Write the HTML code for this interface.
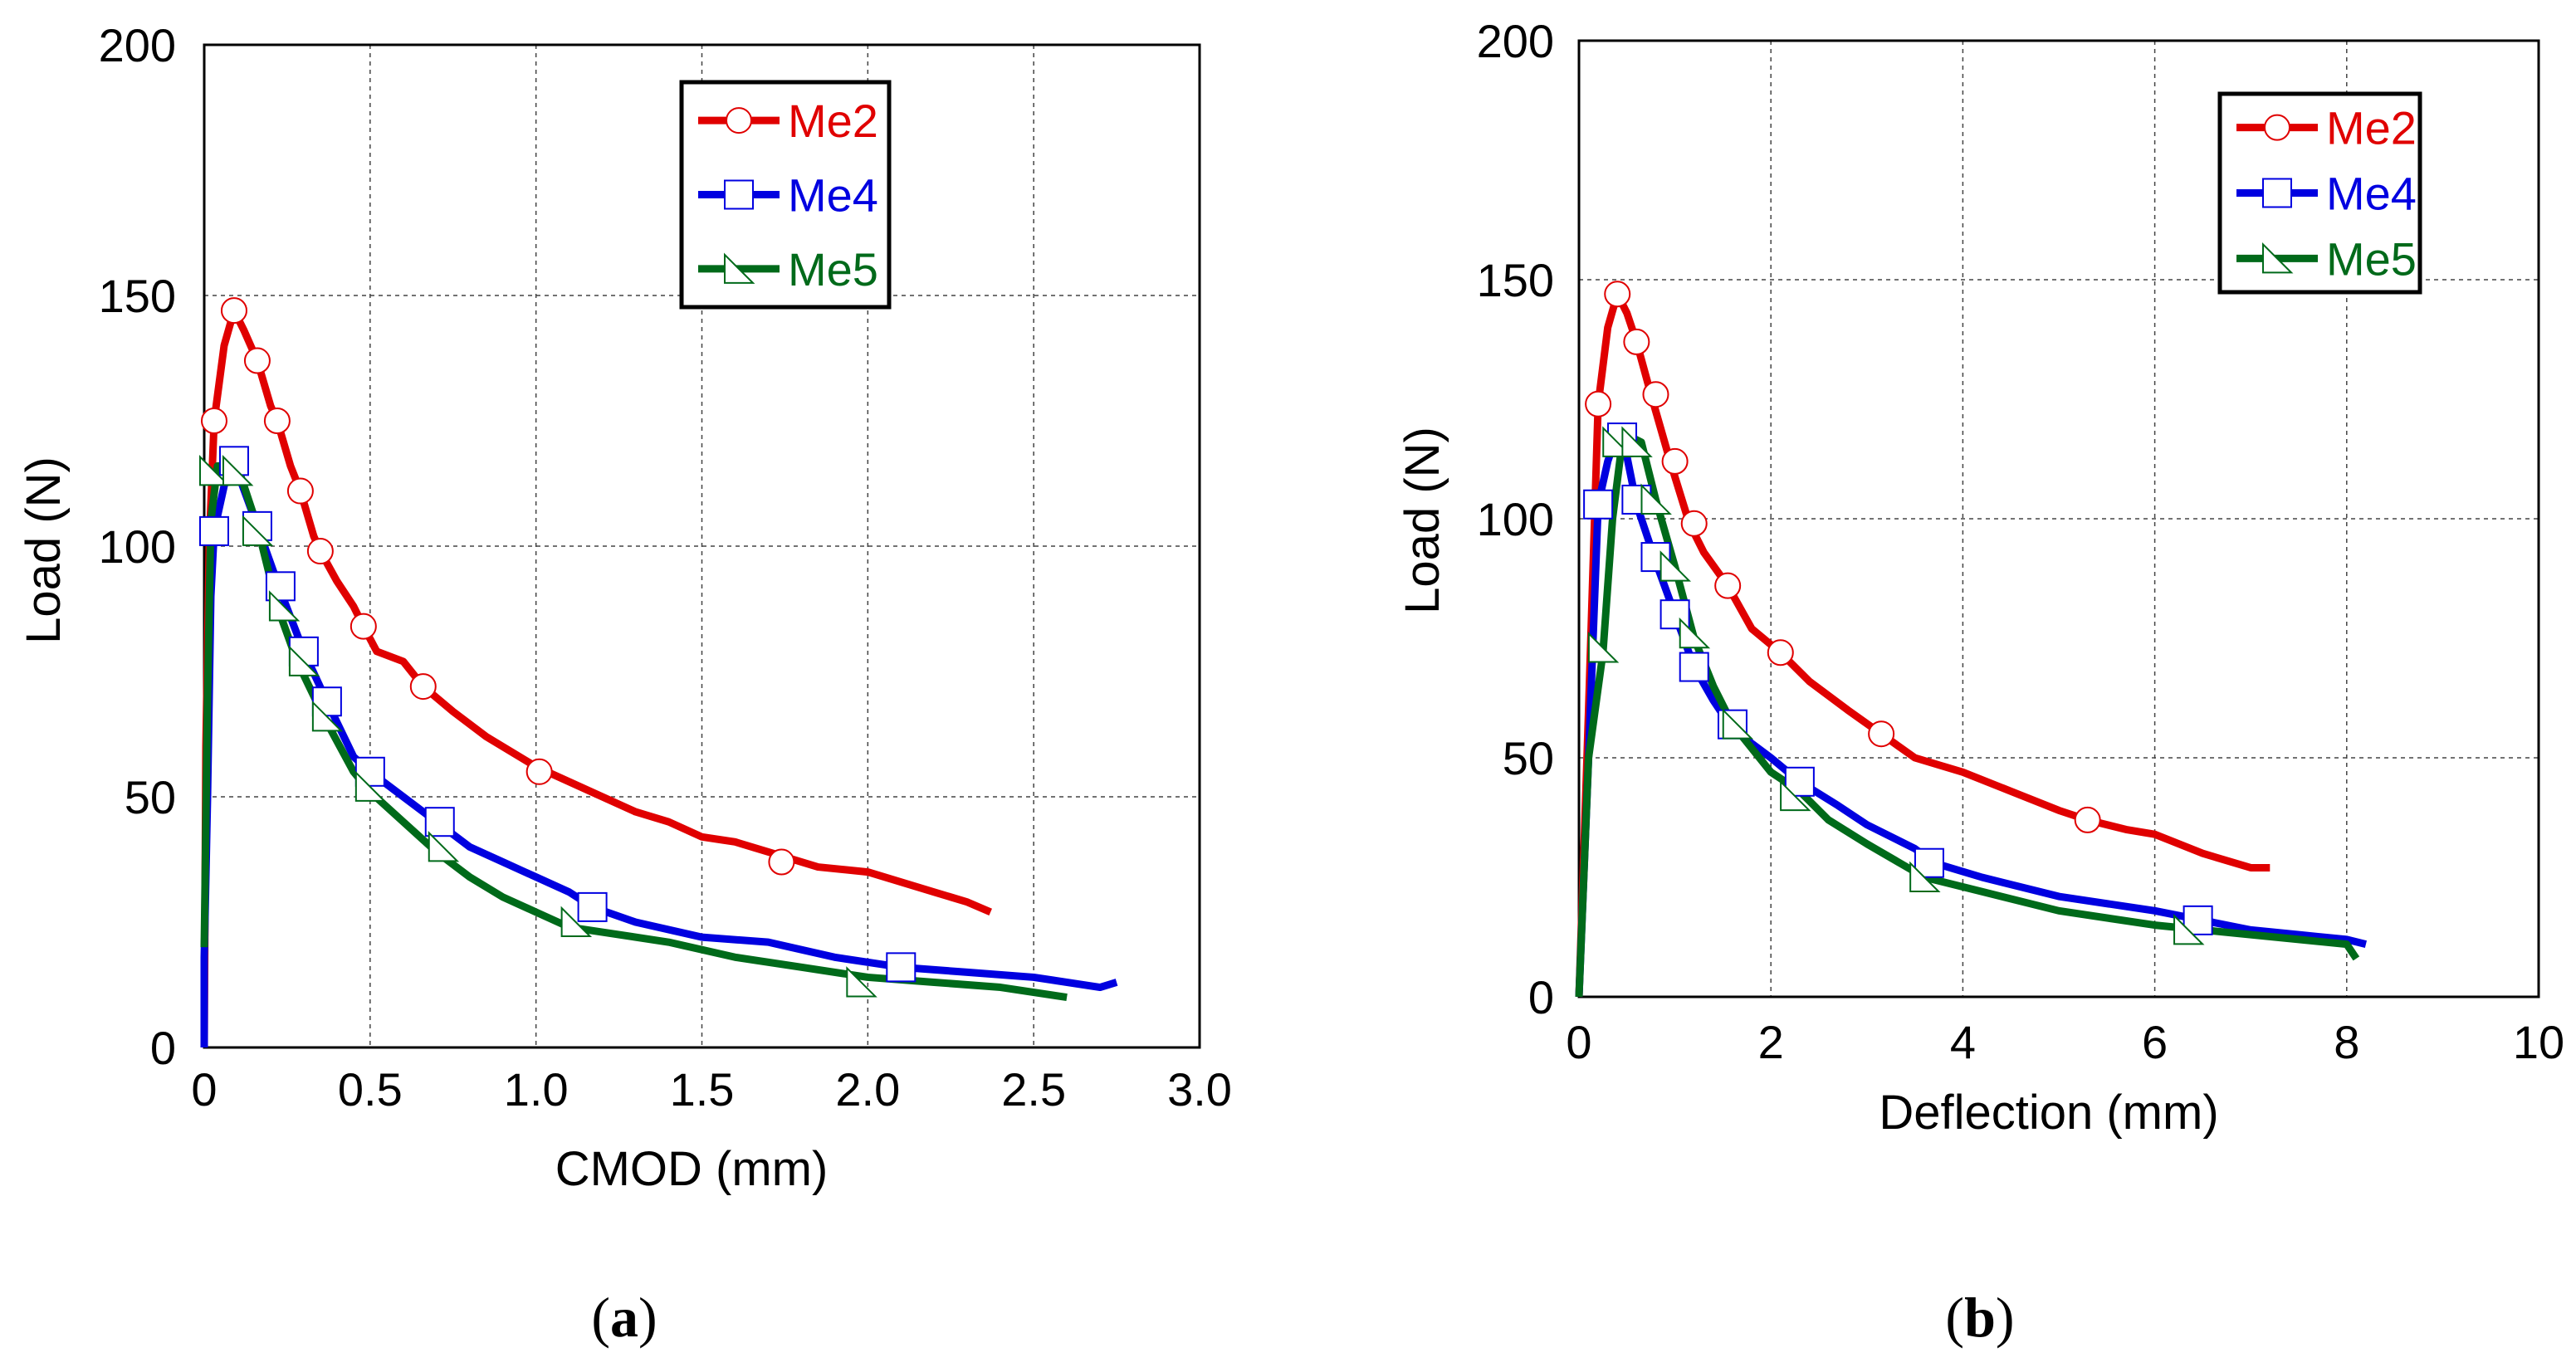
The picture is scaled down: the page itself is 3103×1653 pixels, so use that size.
<!DOCTYPE html>
<html><head><meta charset="utf-8">
<style>
html,body{margin:0;padding:0;background:#fff;}
svg{display:block;font-family:"Liberation Sans",Arial,sans-serif;}
</style></head>
<body>
<svg id="fig" width="3103" height="1653" viewBox="0 0 3103 1653" xmlns="http://www.w3.org/2000/svg"></svg>
<script>
// ---- Chart (a): CMOD vs Load ----
const aMe2X=[0,0.005,0.015,0.03,0.06,0.09,0.12,0.16,0.2,0.22,0.26,0.29,0.33,0.35,0.4,0.45,0.48,0.52,0.6,0.66,0.75,0.85,1.0,1.1,1.2,1.3,1.4,1.5,1.6,1.75,1.85,2.0,2.1,2.2,2.3,2.37];
const aMe2Y=[0,60,100,125,140,147,143,137,128,125,116,111,102,99,93,88,84,79,77,72,67,62,56,53,50,47,45,42,41,38,36,35,33,31,29,27];
const aMe4X=[0,0,0.01,0.02,0.03,0.06,0.09,0.11,0.16,0.23,0.3,0.37,0.45,0.5,0.6,0.7,0.8,0.9,1.0,1.1,1.17,1.3,1.5,1.7,1.9,2.1,2.3,2.5,2.7,2.75];
const aMe4Y=[0,18,50,90,103,112,118,113,104,91,79,69,58,55,50,45,40,37,34,31,28,25,22,21,18,16,15,14,12,13];
const aMe5X=[0,0.01,0.02,0.04,0.1,0.16,0.22,0.28,0.36,0.45,0.5,0.6,0.7,0.8,0.9,1.0,1.1,1.2,1.4,1.6,1.8,2.0,2.2,2.4,2.6];
const aMe5Y=[20,70,105,116,116,104,88,77,66,55,51,45,39,34,30,27,24,23,21,18,16,14,13,12,10];
const aMk2X=[0.03,0.09,0.16,0.22,0.29,0.35,0.48,0.66,1.01,1.74];
const aMk2Y=[125,147,137,125,111,99,84,72,55,37];
const aMk4X=[0.03,0.09,0.16,0.23,0.3,0.37,0.5,0.71,1.17,2.1];
const aMk4Y=[103,117,104,92,79,69,55,45,28,16];
const aMk5X=[0.03,0.1,0.16,0.24,0.3,0.37,0.5,0.72,1.12,1.98];
const aMk5Y=[115,115,103,88,77,66,52,40,25,13];
const aXTicks=["0","0.5","1.0","1.5","2.0","2.5","3.0"];
const aYTicks=["0","50","100","150","200"];
// ---- Chart (b): Deflection vs Load ----
const bMe2X=[0,0.1,0.2,0.3,0.4,0.5,0.6,0.75,0.95,1.15,1.3,1.55,1.8,2.1,2.4,2.8,3.15,3.5,4,4.5,5,5.3,5.7,6,6.5,7,7.2];
const bMe2Y=[0,60,124,140,147,143,137,126,112,99,93,86,77,72,66,60,55,50,47,43,39,37,35,34,30,27,27];
const bMe4X=[0,0.1,0.2,0.3,0.4,0.5,0.6,0.8,1.0,1.2,1.4,1.6,2,2.3,2.7,3,3.5,3.7,4.2,5,6,6.5,7,7.5,8,8.2];
const bMe4Y=[0,50,103,112,118,113,103,91,80,69,62,56,50,45,40,36,31,28,25,21,18,16,14,13,12,11];
const bMe5X=[0,0.1,0.25,0.35,0.45,0.55,0.65,0.8,1.0,1.2,1.4,1.6,2,2.3,2.6,3,3.6,4.2,5,6,6.5,7,7.5,8,8.1];
const bMe5Y=[0,50,72,100,116,117,116,104,90,75,65,57,47,43,37,32,25,22,18,15,14,13,12,11,8];
const bMk2X=[0.2,0.4,0.6,0.8,1.0,1.2,1.55,2.1,3.15,5.3];
const bMk2Y=[124,147,137,126,112,99,86,72,55,37];
const bMk4X=[0.2,0.45,0.6,0.8,1.0,1.2,1.6,2.3,3.65,6.45];
const bMk4Y=[103,117,104,92,80,69,57,45,28,16];
const bMk5X=[0.25,0.4,0.6,0.8,1.0,1.2,1.65,2.25,3.6,6.35];
const bMk5Y=[73,116,116,104,90,76,57,42,25,14];
const bXTicks=["0","2","4","6","8","10"];
const bYTicks=["0","50","100","150","200"];

const NS="http://www.w3.org/2000/svg";
const svg=document.getElementById('fig');
function mk(tag,attrs,parent){const e=document.createElementNS(NS,tag);for(const k in attrs)e.setAttribute(k,attrs[k]);(parent||svg).appendChild(e);return e;}
const RED="#e00000",BLUE="#0000e0",GREEN="#006a1a";

function chart(cfg){
  const g=mk('g',{});
  
  
  const sx=v=>cfg.L+(v-cfg.xmin)/(cfg.xmax-cfg.xmin)*(cfg.R-cfg.L);
  const sy=v=>cfg.B-(v/200)*(cfg.B-cfg.T);
  // grid
  const xstep=(cfg.xmax-cfg.xmin)/(cfg.xt.length-1);
  cfg.xt.forEach((t,i)=>{
    const x=sx(cfg.xmin+i*xstep);
    if(i>0&&i<cfg.xt.length-1){const l=mk('line',{x1:x,x2:x,y1:cfg.T,y2:cfg.B,stroke:"#444","stroke-width":1.5,"stroke-dasharray":"5,5"},g);
      }
    const tx=mk('text',{x:x,y:cfg.xlabY,"font-size":56,"text-anchor":"middle",fill:"#000"},g);tx.textContent=t;
    
  });
  cfg.yt.forEach((t,i)=>{
    const y=sy(i*50);
    if(i>0&&i<cfg.yt.length-1){const l=mk('line',{x1:cfg.L,x2:cfg.R,y1:y,y2:y,stroke:"#444","stroke-width":1.5,"stroke-dasharray":"5,5"},g);
      }
    const tx=mk('text',{x:cfg.ylabX,y:y+20,"font-size":56,"text-anchor":"end",fill:"#000"},g);tx.textContent=t;
    
  });
  const fr=mk('rect',{x:cfg.L,y:cfg.T,width:cfg.R-cfg.L,height:cfg.B-cfg.T,fill:"none",stroke:"#000","stroke-width":3},g);
  
  // series
  cfg.series.forEach(s=>{
    const p=mk('polyline',{points:s.x.map((v,i)=>sx(v)+","+sy(s.y[i])).join(" "),fill:"none",stroke:s.c,"stroke-width":9,"stroke-linejoin":"round"},g);
    
  });
  cfg.series.forEach(s=>{
    s.mx.forEach((v,i)=>{marker(g,s.m,sx(v),sy(s.my[i]),s.c,s.n);});
  });
  // legend
  const lg=mk('g',{},g);
  
  mk('rect',{x:cfg.lx,y:cfg.ly,width:cfg.lw,height:cfg.lh,fill:"#fff",stroke:"#000","stroke-width":5},lg);
  cfg.series.forEach((s,i)=>{
    const y=cfg.ly+cfg.lh*(0.17+0.33*i);
    const ent=mk('g',{},lg);
    
    mk('line',{x1:cfg.lx+20,x2:cfg.lx+118,y1:y,y2:y,stroke:s.c,"stroke-width":9},ent);
    marker(ent,s.m,cfg.lx+69,y,s.c,s.n);
    const t=mk('text',{x:cfg.lx+128,y:y+20,"font-size":56,fill:s.c},ent);t.textContent=s.n;
  });
  // titles
  const xt=mk('text',{x:cfg.xtX,y:cfg.xtY,"font-size":58,"text-anchor":"middle",fill:"#000"},g);xt.textContent=cfg.xtitle;
  
  const yt=mk('text',{x:0,y:0,"font-size":58,"text-anchor":"middle",fill:"#000",transform:`translate(${cfg.ytX},${cfg.ytY}) rotate(-90)`},g);yt.textContent="Load (N)";
  
  const pl=mk('text',{x:cfg.plX,y:1610,"font-size":68,"text-anchor":"middle",fill:"#000","font-family":"Liberation Serif, serif"},g);
  pl.innerHTML='(<tspan font-weight="bold">'+cfg.pl+'</tspan>)';
  
}
function marker(g,type,x,y,c,n){
  let e;
  if(type==='o')e=mk('circle',{cx:x,cy:y,r:15,fill:"#fff",stroke:c,"stroke-width":2},g);
  else if(type==='s')e=mk('rect',{x:x-17,y:y-17,width:34,height:34,fill:"#fff",stroke:c,"stroke-width":2},g);
  else e=mk('polygon',{points:`${x-17},${y-17} ${x-17},${y+17} ${x+17},${y+17}`,fill:"#fff",stroke:c,"stroke-width":2},g);
  
  
}
chart({name:'chart-a-cmod',L:246,R:1445,T:54,B:1262,xmin:0,xmax:3,xt:aXTicks,yt:aYTicks,xlabY:1332,ylabX:212,
  lx:821,ly:99,lw:250,lh:271,xtitle:"CMOD (mm)",xtX:833,xtY:1428,ytX:72,ytY:663,plX:752,pl:"a",
  series:[{n:"Me2",c:RED,m:'o',x:aMe2X,y:aMe2Y,mx:aMk2X,my:aMk2Y},
          {n:"Me4",c:BLUE,m:'s',x:aMe4X,y:aMe4Y,mx:aMk4X,my:aMk4Y},
          {n:"Me5",c:GREEN,m:'t',x:aMe5X,y:aMe5Y,mx:aMk5X,my:aMk5Y}]});
chart({name:'chart-b-deflection',L:1902,R:3058,T:49,B:1201,xmin:0,xmax:10,xt:bXTicks,yt:bYTicks,xlabY:1275,ylabX:1872,
  lx:2674,ly:113,lw:241,lh:239,xtitle:"Deflection (mm)",xtX:2468,xtY:1360,ytX:1733,ytY:627,plX:2385,pl:"b",
  series:[{n:"Me2",c:RED,m:'o',x:bMe2X,y:bMe2Y,mx:bMk2X,my:bMk2Y},
          {n:"Me4",c:BLUE,m:'s',x:bMe4X,y:bMe4Y,mx:bMk4X,my:bMk4Y},
          {n:"Me5",c:GREEN,m:'t',x:bMe5X,y:bMe5Y,mx:bMk5X,my:bMk5Y}]});
</script>
</body></html>
